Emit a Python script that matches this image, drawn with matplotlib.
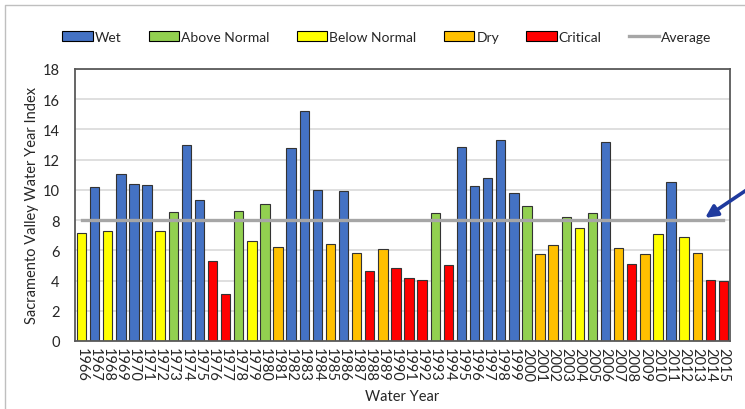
import matplotlib.pyplot as plt
from matplotlib.patches import Patch
from matplotlib.lines import Line2D

# water year types and index values
years = list(range(1966, 2016))
year_types = ["BN", "W", "BN", "W", "W", "W", "BN", "AN", "W", "W",
              "C", "C", "AN", "BN", "AN", "D", "W", "W", "W", "D",
              "W", "D", "C", "D", "C", "C", "C", "AN", "C", "W",
              "W", "W", "W", "W", "AN", "D", "D", "AN", "BN", "AN",
              "W", "D", "C", "D", "BN", "W", "BN", "D", "C", "C"]
index_values = [7.15, 10.2, 7.25, 11.05, 10.4, 10.35, 7.3, 8.55, 12.95, 9.35,
                5.3, 3.1, 8.6, 6.65, 9.05, 6.2, 12.75, 15.25, 10.0, 6.45,
                9.95, 5.85, 4.65, 6.1, 4.8, 4.2, 4.05, 8.5, 5.0, 12.85,
                10.25, 10.8, 13.3, 9.8, 8.95, 5.75, 6.35, 8.2, 7.5, 8.45,
                13.2, 6.15, 5.1, 5.75, 7.05, 10.5, 6.85, 5.8, 4.05, 4.0]
average_index = 8.0

type_labels = {"W": "Wet", "AN": "Above Normal", "BN": "Below Normal",
               "D": "Dry", "C": "Critical"}
type_colors = {"W": "#4472C4", "AN": "#92D050", "BN": "#FFFF00",
               "D": "#FFC000", "C": "#FF0000"}

plt.rcParams['font.family'] = ['Lato', 'DejaVu Sans']
plt.rcParams['text.color'] = '#262626'
plt.rcParams['axes.labelcolor'] = '#262626'
plt.rcParams['xtick.color'] = '#262626'
plt.rcParams['ytick.color'] = '#262626'

fig = plt.figure(figsize=(7.45, 4.10), dpi=100)
ax = fig.add_axes([75/745, 1-342/410, 655/745, 272/410])

x = list(range(len(years)))
colors = [type_colors[t] for t in year_types]
ax.bar(x, index_values, width=0.72, color=colors, edgecolor="#333333",
       linewidth=0.8, zorder=2)
ax.plot([x[0], x[-1]], [average_index, average_index], color="#A6A6A6",
        linewidth=2.4, zorder=3)

ax.set_xlim(-0.5, len(years) - 0.5)
ax.set_ylim(0, 18)
ax.set_yticks(range(0, 19, 2))
ax.set_xticks(x)
ax.set_xticklabels([str(y) for y in years], rotation=270, fontsize=10.5)
ax.tick_params(axis="x", length=0, pad=4)
ax.tick_params(axis="y", length=0, pad=11, labelsize=10.5)
ax.grid(axis="y", color="#D9D9D9", linewidth=1.2, zorder=0)
ax.set_axisbelow(True)
for s in ax.spines.values():
    s.set_color("#595959")
    s.set_linewidth(1.3)

ax.set_xlabel("Water Year", fontsize=10.5, labelpad=6)
ax.set_ylabel("Sacramento Valley Water Year Index", fontsize=10.5, labelpad=3)

handles = [Patch(facecolor=type_colors[k], edgecolor="black", linewidth=0.8,
                 label=type_labels[k]) for k in ["W", "AN", "BN", "D", "C"]]
handles.append(Line2D([], [], color="#A6A6A6", linewidth=2.4, label="Average"))
fig.legend(handles=handles, loc="center", bbox_to_anchor=(387/745, 1-38/410),
           ncol=6, frameon=False, fontsize=10, handlelength=2.2,
           handleheight=0.7, handletextpad=0.15, columnspacing=1.95)

# arrow pointing at the average line
ax.annotate("", xy=(len(years) - 2.4, average_index + 0.15),
            xytext=(1.02, 1-182/410), textcoords="figure fraction",
            arrowprops=dict(arrowstyle="-|>", color="#1F3A9E", lw=2.6,
                            mutation_scale=18, shrinkA=0, shrinkB=0),
            annotation_clip=False)

# outer chart border
fig.add_artist(Line2D([5/745, 5/745, 1.0], [0.0, 1-6/410, 1-6/410],
                      transform=fig.transFigure, color="#BFBFBF", linewidth=1))

fig.savefig("out.png", dpi=100)
